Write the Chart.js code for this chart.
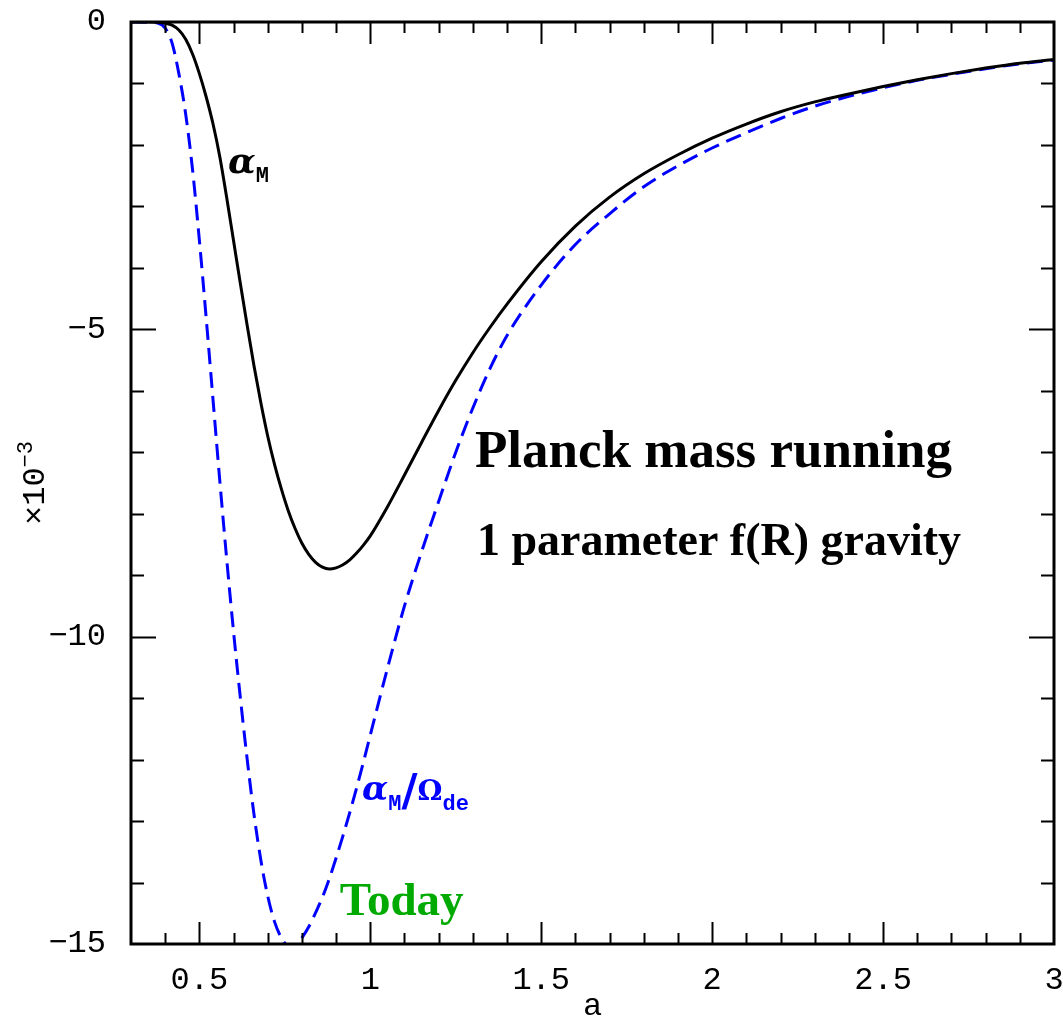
<!DOCTYPE html>
<html>
<head>
<meta charset="utf-8">
<script src="https://cdn.jsdelivr.net/npm/chart.js@4.4.1/dist/chart.umd.min.js"></script>
<style>
  html, body { margin: 0; padding: 0; background: #fff; }
</style>
</head>
<body>
<canvas id="alphaChart" width="1063" height="1026"></canvas>
<script>
// scale factor a
const scaleFactors = [
  0.30, 0.35, 0.38, 0.40, 0.42, 0.44, 0.46, 0.48, 0.50, 0.52, 0.54, 0.56, 0.58, 0.60,
  0.62, 0.64, 0.66, 0.68, 0.70, 0.72, 0.74, 0.76, 0.78, 0.80, 0.82, 0.84, 0.86, 0.88,
  0.90, 0.92, 0.94, 0.96, 0.98, 1.00, 1.05, 1.10, 1.15, 1.20, 1.25, 1.30, 1.35, 1.40,
  1.50, 1.60, 1.70, 1.80, 1.90, 2.00, 2.10, 2.20, 2.30, 2.40, 2.50, 2.60, 2.70, 2.80,
  2.90, 3.00
];
// alpha_M in units of 1e-3
const alphaM = [
  0, 0, -0.005, -0.02, -0.05, -0.13, -0.28, -0.52, -0.84, -1.22, -1.66, -2.20, -2.86, -3.56,
  -4.26, -4.94, -5.60, -6.20, -6.74, -7.20, -7.60, -7.95, -8.24, -8.48, -8.66, -8.79, -8.87, -8.90,
  -8.88, -8.83, -8.75, -8.64, -8.51, -8.36, -7.89, -7.37, -6.84, -6.32, -5.83, -5.38, -4.97, -4.59,
  -3.90, -3.32, -2.85, -2.47, -2.16, -1.89, -1.66, -1.46, -1.30, -1.17, -1.05, -0.94, -0.84, -0.75,
  -0.67, -0.61
];
// alpha_M / Omega_de in units of 1e-3
const alphaMOverOmegaDE = [
  0, -0.005, -0.02, -0.10, -0.34, -0.84, -1.50, -2.40, -3.55, -4.82, -6.15, -7.48, -8.74, -9.92,
  -11.00, -12.00, -12.90, -13.64, -14.22, -14.64, -14.90, -15.03, -15.04, -14.90, -14.72, -14.49, -14.24, -13.94,
  -13.60, -13.24, -12.86, -12.46, -12.04, -11.60, -10.52, -9.50, -8.62, -7.80, -7.00, -6.28, -5.64, -5.10,
  -4.28, -3.62, -3.12, -2.68, -2.34, -2.05, -1.80, -1.57, -1.37, -1.21, -1.07, -0.95, -0.85, -0.76,
  -0.68, -0.62
];
const xTickValues = [0.5, 1, 1.5, 2, 2.5, 3];
const yTickValues = [0, -5, -10, -15];

const toPoints = ys => scaleFactors.map((a, i) => ({ x: a, y: ys[i] }));
const minus = v => (v < 0 ? '\u2212' + Math.abs(v) : String(v));

const MONO = '"Liberation Mono"';

// text pieces drawn on the plot, anchored at data coordinates (left, baseline)
const annotations = [
  { x: 0.584, y: -2.46, color: '#000', runs: [
    { t: '\u03b1', font: 'italic bold 36px "DejaVu Serif"', dy: 0 },
    { t: 'M', font: 'bold 22px ' + MONO, dy: 9 }
  ] },
  { x: 0.976, y: -12.66, color: '#0000ff', runs: [
    { t: '\u03b1', font: 'italic bold 34px "DejaVu Serif"', dy: 0 },
    { t: 'M', font: 'bold 22px ' + MONO, dy: 10 },
    { t: '/', font: 'bold 44px "DejaVu Sans"', dy: 6 },
    { t: '\u03a9', font: 'bold 28px "DejaVu Serif"', dy: 0 },
    { t: 'de', font: 'bold 22px ' + MONO, dy: 10 }
  ] },
  { x: 0.911, y: -14.53, color: '#00aa00', runs: [
    { t: 'Today', font: 'bold 47px "Liberation Serif"', dy: 0 }
  ] },
  { x: 1.306, y: -7.24, color: '#000', runs: [
    { t: 'Planck mass running', font: 'bold 53px "Liberation Serif"', dy: 0 }
  ] },
  { x: 1.312, y: -8.67, color: '#000', runs: [
    { t: '1 parameter f(R) gravity', font: 'bold 46px "Liberation Serif"', dy: 0 }
  ] }
];

function drawRuns(ctx, runs, x0, y0) {
  let px = x0;
  runs.forEach(r => {
    ctx.font = r.font;
    ctx.fillText(r.t, px, y0 + r.dy);
    px += ctx.measureText(r.t).width;
  });
}

// frame, inward ticks on all four sides, the y unit and the labels inside the plot
const frameTicks = {
  id: 'frameTicks',
  afterDatasetsDraw(chart) {
    const { ctx, chartArea: ca, scales: { x, y } } = chart;
    ctx.save();
    ctx.strokeStyle = '#000';
    ctx.lineWidth = 2;
    ctx.beginPath();
    for (let k = 4; k <= 29; k++) {
      const px = Math.round(x.getPixelForValue(k / 10)) + 0.5;
      const len = k % 5 === 0 ? 22 : 11;
      ctx.moveTo(px, ca.bottom); ctx.lineTo(px, ca.bottom - len);
      ctx.moveTo(px, ca.top); ctx.lineTo(px, ca.top + len);
    }
    for (let k = -14; k <= -1; k++) {
      const py = Math.round(y.getPixelForValue(k)) + 0.5;
      const len = k % 5 === 0 ? 25 : 13;
      ctx.moveTo(ca.left, py); ctx.lineTo(ca.left + len, py);
      ctx.moveTo(ca.right, py); ctx.lineTo(ca.right - len, py);
    }
    ctx.stroke();
    ctx.lineWidth = 3;
    ctx.strokeRect(ca.left, ca.top, ca.right - ca.left, ca.bottom - ca.top);

    ctx.textBaseline = 'alphabetic';
    ctx.textAlign = 'left';
    annotations.forEach(an => {
      ctx.fillStyle = an.color;
      drawRuns(ctx, an.runs, x.getPixelForValue(an.x), y.getPixelForValue(an.y));
    });

    // y unit: x10^-3, rotated
    const unitRuns = [
      { t: '\u00d710', font: '32px ' + MONO, dy: 0 },
      { t: '\u22123', font: '22px ' + MONO, dy: -12 }
    ];
    let w = 0;
    unitRuns.forEach(r => { ctx.font = r.font; w += ctx.measureText(r.t).width; });
    ctx.fillStyle = '#000';
    ctx.translate(44, (ca.top + ca.bottom) / 2);
    ctx.rotate(-Math.PI / 2);
    drawRuns(ctx, unitRuns, -w / 2, 0);
    ctx.restore();
  }
};

const tickFont = { family: MONO, size: 32 };
const noPad = s => { s.paddingLeft = 0; s.paddingRight = 0; s.paddingTop = 0; s.paddingBottom = 0; };

new Chart(document.getElementById('alphaChart'), {
  type: 'line',
  data: {
    datasets: [
      {
        label: 'alphaM',
        data: toPoints(alphaM),
        borderColor: '#000',
        borderWidth: 3,
        pointRadius: 0,
        cubicInterpolationMode: 'monotone'
      },
      {
        label: 'alphaM/OmegaDE',
        data: toPoints(alphaMOverOmegaDE),
        borderColor: '#0000ff',
        borderWidth: 3,
        borderDash: [16, 8],
        pointRadius: 0,
        cubicInterpolationMode: 'monotone'
      }
    ]
  },
  options: {
    responsive: false,
    animation: false,
    layout: { padding: { left: 0, right: 9, top: 22, bottom: 0 } },
    plugins: { legend: { display: false }, tooltip: { enabled: false } },
    scales: {
      x: {
        type: 'linear',
        min: 0.3,
        max: 3,
        afterFit: s => { s.height = 82; noPad(s); },
        afterBuildTicks: s => { s.ticks = xTickValues.map(v => ({ value: v })); },
        grid: { display: false },
        border: { display: false },
        ticks: { padding: 9, color: '#000', font: tickFont, maxRotation: 0, callback: v => String(v) },
        title: { display: true, text: 'a', color: '#000', font: tickFont, padding: { top: 0, bottom: 0 } }
      },
      y: {
        type: 'linear',
        min: -15,
        max: 0,
        afterFit: s => { s.width = 131; noPad(s); },
        afterBuildTicks: s => { s.ticks = yTickValues.map(v => ({ value: v })); },
        grid: { display: false },
        border: { display: false },
        ticks: { padding: 17, color: '#000', font: tickFont, callback: v => minus(v) }
      }
    }
  },
  plugins: [frameTicks]
});
</script>
</body>
</html>
